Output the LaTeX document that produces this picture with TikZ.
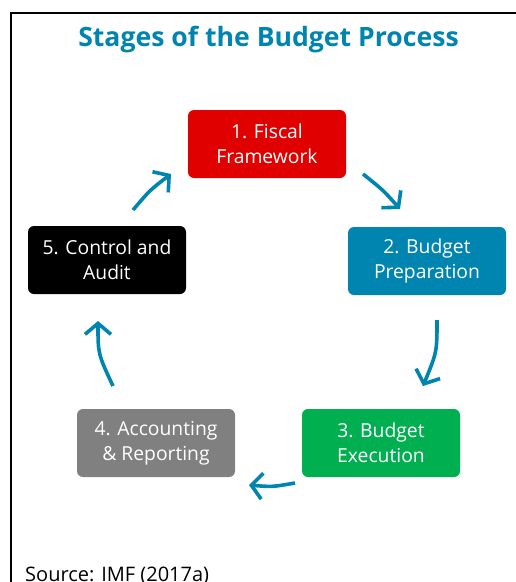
\documentclass[tikz,border=0pt]{standalone}
\usepackage{fontspec}
\setmainfont{Open Sans}
\usetikzlibrary{arrows.meta}
\definecolor{teal}{HTML}{0085B0}
\definecolor{fiscred}{HTML}{E00000}
\definecolor{execgreen}{HTML}{00B050}
\definecolor{accgray}{HTML}{808080}
\tikzset{
  stage/.style={rounded corners=6pt, minimum width=158pt, minimum height=68pt, inner sep=0pt,
    align=center, text=white, font=\fontsize{19.3}{25}\selectfont},
  cyc/.style={draw=teal, line width=3.6pt, -{Straight Barb[length=11pt,width=26pt]}}
}
\begin{document}
\begin{tikzpicture}[x=1pt,y=-1pt]
\useasboundingbox (0,0) rectangle (515,582);
\fill[white] (0,0) rectangle (515,582);
\draw[line width=2pt] (11,583) -- (11,13) -- (516,13);
\node[anchor=base, text=teal, font=\bfseries\fontsize{26.6}{30}\selectfont] (title) at (268.5,46) {Stages of the Budget Process};
\node[stage, fill=fiscred] (s1) at (267,144) {1. Fiscal\\Framework};
\node[stage, fill=teal] (s2) at (427,261) {2. Budget\\Preparation};
\node[stage, fill=execgreen] (s3) at (381,443) {3. Budget\\Execution};
\node[stage, fill=accgray] (s4) at (156,443) {4. Accounting\\\& Reporting};
\node[stage, fill=black] (s5) at (107,260) {5. Control and\\Audit};
\coordinate (a1s) at (363,174); \coordinate (a1e) at (400,209);
\coordinate (a2s) at (437,320); \coordinate (a2e) at (423,386);
\coordinate (a3s) at (295,483); \coordinate (a3e) at (249,485);
\coordinate (a4s) at (113,386); \coordinate (a4e) at (98,321);
\coordinate (a5s) at (133,210); \coordinate (a5e) at (171,174);
\draw[cyc] (a1s) .. controls (383,190) .. (a1e);
\draw[cyc] (a2s) .. controls (437,352) .. (a2e);
\draw[cyc] (a3s) .. controls (272,487) .. (a3e);
\draw[cyc] (a4s) .. controls (98,354) .. (a4e);
\draw[cyc] (a5s) .. controls (150,190) .. (a5e);
\node[anchor=base west, font=\fontsize{20}{24}\selectfont, inner sep=0pt] (src) at (25,581) {Source: IMF (2017a)};
\end{tikzpicture}
\end{document}
